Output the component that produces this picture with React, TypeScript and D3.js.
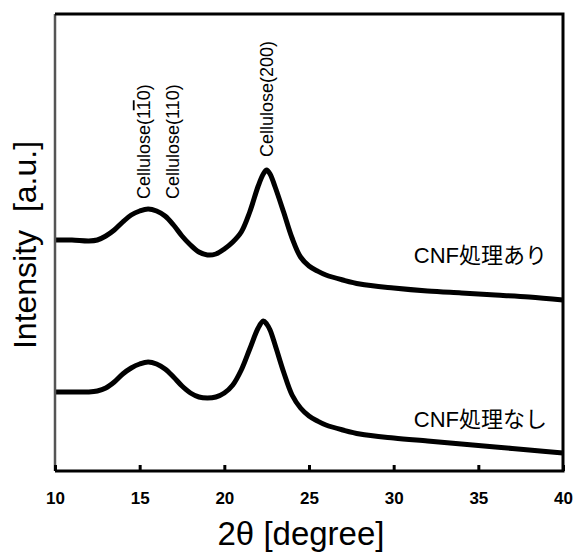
import React, { useEffect, useRef } from 'react';
import * as d3 from 'd3';

// 2θ sample positions (degree)
const twoTheta = [
  10, 11, 12, 12.5, 13, 13.5, 14, 14.5, 15, 15.5, 16, 16.5, 17, 17.5, 18, 18.5,
  19, 19.5, 20, 20.5, 21, 21.5, 22, 22.3, 22.5, 22.7, 23, 23.5, 24, 24.5, 25,
  25.5, 26, 27, 28, 30, 32, 34, 36, 38, 40,
];

// intensity (a.u.), CNF処理あり (upper trace)
const withCnf = [
  231, 231, 230, 231, 235, 241, 249, 256, 260, 262, 260, 255, 246, 235, 226, 219,
  216, 217, 222, 229, 239, 259, 285, 297, 301, 297, 284, 259, 233, 214, 205,
  200, 196, 191, 187, 183, 180, 178, 176, 174, 171,
];

// intensity (a.u.), CNF処理なし (lower trace)
const withoutCnf = [
  79, 79, 79, 80, 83, 89, 97, 103, 107, 109, 107, 102, 94, 85, 78, 74,
  73, 74, 78, 86, 101, 122, 143, 150, 147, 141, 126, 99, 76, 63, 55,
  50, 46, 41, 37, 33, 30, 27, 24, 21, 18,
];

const xTicks = [10, 15, 20, 25, 30, 35, 40];
const seriesLabels = ['CNF処理あり', 'CNF処理なし'];

const latin = '"Liberation Sans", Arial, Helvetica, sans-serif';
const jp = '"Liberation Sans", Arial, "Noto Sans CJK JP", sans-serif';

const App = () => {
  const svgRef = useRef<SVGSVGElement>(null);

  useEffect(() => {
    const W = 576;
    const H = 552;
    const margin = { top: 14, right: 13, bottom: 81, left: 55 };
    const width = W - margin.left - margin.right;
    const height = H - margin.top - margin.bottom;

    d3.select(svgRef.current).selectAll('*').remove();

    const root = d3
      .select(svgRef.current)
      .attr('width', W)
      .attr('height', H)
      .style('background', '#fff');

    const svg = root
      .append('g')
      .attr('transform', `translate(${margin.left}, ${margin.top})`);

    const x = d3.scaleLinear().domain([10, 40]).range([0, width]);
    const y = d3.scaleLinear().domain([0, 457]).range([height, 0]);

    // traces
    const line = d3
      .line<number>()
      .x((_, i) => x(twoTheta[i]))
      .y(d => y(d))
      .curve(d3.curveCatmullRom.alpha(0.5));

    [withCnf, withoutCnf].forEach(s => {
      svg
        .append('path')
        .datum(s)
        .attr('fill', 'none')
        .attr('stroke', '#000')
        .attr('stroke-width', 5)
        .attr('stroke-linejoin', 'round')
        .attr('d', line);
    });

    // frame
    svg
      .append('line')
      .attr('x1', 0).attr('x2', 0)
      .attr('y1', 0).attr('y2', height)
      .attr('stroke', '#555')
      .attr('stroke-width', 2.5);
    svg
      .append('path')
      .attr('d', `M0,0H${width}V${height}H0`)
      .attr('fill', 'none')
      .attr('stroke', '#000')
      .attr('stroke-width', 3);

    // bottom axis, ticks pointing inward
    const xAxis = svg
      .append('g')
      .attr('transform', `translate(0, ${height})`)
      .call(d3.axisBottom(x).tickValues(xTicks).tickSize(-6).tickSizeOuter(0).tickPadding(21));
    xAxis.select('.domain').remove();
    xAxis.selectAll('line').attr('stroke', '#000').attr('stroke-width', 3);
    xAxis
      .selectAll('text')
      .style('font-family', latin)
      .style('font-size', '17px')
      .style('font-weight', 'bold')
      .attr('fill', '#000');

    // axis titles
    root
      .append('text')
      .attr('x', 301)
      .attr('y', 545)
      .attr('text-anchor', 'middle')
      .style('font-family', latin)
      .style('font-size', '33px')
      .text('2θ [degree]');

    root
      .append('text')
      .attr('transform', 'rotate(-90)')
      .attr('x', -245)
      .attr('y', 36)
      .attr('text-anchor', 'middle')
      .style('font-family', latin)
      .style('font-size', '32px')
      .style('white-space', 'pre')
      .text('Intensity  [a.u.]');

    // peak annotations
    const ann = (px: number, py: number) =>
      svg
        .append('text')
        .attr('transform', `translate(${px}, ${py}) rotate(-90)`)
        .style('font-family', latin)
        .style('font-size', '18px');

    const a1 = ann(x(15.6), 199 - margin.top);
    a1.append('tspan').text('Cellulose(1');
    a1.append('tspan').style('text-decoration', 'overline').text('1');
    a1.append('tspan').text('0)');
    ann(x(17.3), 199 - margin.top).text('Cellulose(110)');
    ann(x(22.9), 157 - margin.top).text('Cellulose(200)');

    // series labels
    const labelY = [263, 427];
    seriesLabels.forEach((t, i) => {
      svg
        .append('text')
        .attr('x', 547 - margin.left)
        .attr('y', labelY[i] - margin.top)
        .attr('text-anchor', 'end')
        .style('font-family', jp)
        .style('font-size', '22px')
        .text(t);
    });
  }, []);

  return <svg ref={svgRef} style={{ position: 'absolute', left: 0, top: 0 }}></svg>;
};

export default App;
